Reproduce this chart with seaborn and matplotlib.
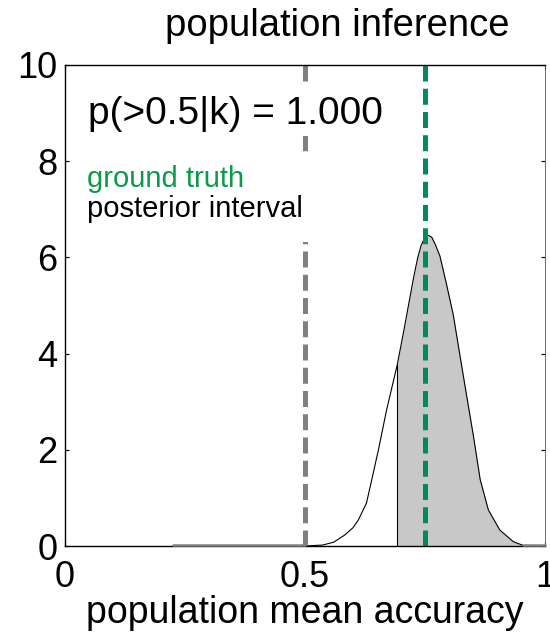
import matplotlib
matplotlib.use("Agg")
import matplotlib.pyplot as plt
import seaborn as sns
import pandas as pd
from matplotlib.patches import Rectangle

# ---- data ----
acc_x = [0.500, 0.537, 0.560, 0.583, 0.600, 0.611, 0.628, 0.639, 0.653, 0.670,
         0.692, 0.705, 0.719, 0.727, 0.735, 0.742, 0.749, 0.757, 0.764, 0.771,
         0.781, 0.794, 0.809, 0.822, 0.837, 0.851, 0.865, 0.882, 0.906, 0.934,
         0.955, 0.975, 1.000]
density = [0.00, 0.02, 0.08, 0.23, 0.38, 0.54, 0.89, 1.375, 2.00, 2.83,
           3.76, 4.43, 5.19, 5.62, 6.00, 6.25, 6.40, 6.46, 6.42, 6.28,
           6.03, 5.48, 4.80, 4.01, 3.11, 2.28, 1.38, 0.75, 0.33, 0.09,
           0.01, 0.00, 0.00]
interval_low = 0.692
interval_high = 1.0
chance_level = 0.5
ground_truth = 0.75
zero_line_left = [0.225, 0.50]
zero_line_right = [0.955, 1.00]
p_text = "p(>0.5|k) = 1.000"
x_ticks = [0, 0.5, 1]
x_ticklabels = ["0", "0.5", "1"]
y_ticks = [0, 2, 4, 6, 8, 10]

df = pd.DataFrame({"acc": acc_x, "dens": density})

sns.set_style("ticks")
plt.rcParams["font.family"] = ["Liberation Sans", "DejaVu Sans"]
plt.rcParams["text.color"] = "black"
plt.rcParams["xtick.color"] = "black"
plt.rcParams["ytick.color"] = "black"
plt.rcParams["xtick.labelcolor"] = "black"
plt.rcParams["ytick.labelcolor"] = "black"

fig = plt.figure(figsize=(5.5, 6.37), dpi=100)
ax = fig.add_axes([65/550, 1-546/637, 480/550, (546-65)/637])

# shaded posterior interval
sub = df[(df.acc >= interval_low) & (df.acc <= interval_high)]
ax.fill_between(sub.acc, 0, sub.dens, color="#C8C8C8", lw=0, zorder=1)
ax.plot([interval_low, interval_low], [0, sub.dens.iloc[0]], color="black", lw=0.8, zorder=2)

# density curve
sns.lineplot(data=df, x="acc", y="dens", color="black", lw=0.8, ax=ax, zorder=2)

# gray line on the baseline
for seg in (zero_line_left, zero_line_right):
    ax.plot(seg, [0.03, 0.03], color="#808080", lw=1.8, zorder=2.6, clip_on=False)

# vertical dashed lines
ax.axvline(chance_level, color="#808080", lw=3.6, ls=(0, (3.2, 1.45)), zorder=2.5)
ax.axvline(ground_truth, color="#008C5A", lw=3.6, ls=(0, (3.2, 1.45)), zorder=2.5)

# white backgrounds behind texts
ax.add_patch(Rectangle((0.04, 8.52), 0.64, 1.13, fc="white", ec="none", zorder=3))
ax.add_patch(Rectangle((0.04, 6.33), 0.48, 1.84, fc="white", ec="none", zorder=3))

ax.text(0.048, (546-125)/48, p_text, fontsize=28, va="baseline", ha="left", zorder=4)
ax.text(0.046, (546-188)/48, "ground truth", fontsize=21, color="#0A9A4A",
        va="baseline", ha="left", zorder=4)
ax.text(0.046, (546-218)/48, "posterior interval", fontsize=21, color="black",
        va="baseline", ha="left", zorder=4)

ax.set_xlim(0, 1)
ax.set_ylim(0, 10)
ax.set_xticks(x_ticks)
ax.set_xticklabels(x_ticklabels)
ax.set_yticks(y_ticks)
ax.set_xlabel("")
ax.set_ylabel("")
ax.tick_params(direction="in", length=3, width=0.8, labelsize=26,
               top=True, right=True, color="black", labelcolor="black")
ax.tick_params(axis="y", pad=5.5)
ax.tick_params(axis="x", pad=10)
for s in ax.spines.values():
    s.set_visible(True)
    s.set_color("black")
    s.set_linewidth(1.0)
ax.spines["right"].set_linewidth(0.6)
ax.spines["right"].set_color("#555555")

fig.text(337/550, 1-36/637, "population inference", fontsize=27.5,
         ha="center", va="baseline", color="black")
fig.text(305/550, 1-623/637, "population mean accuracy", fontsize=27,
         ha="center", va="baseline", color="black")

fig.savefig("out.png", dpi=100)
